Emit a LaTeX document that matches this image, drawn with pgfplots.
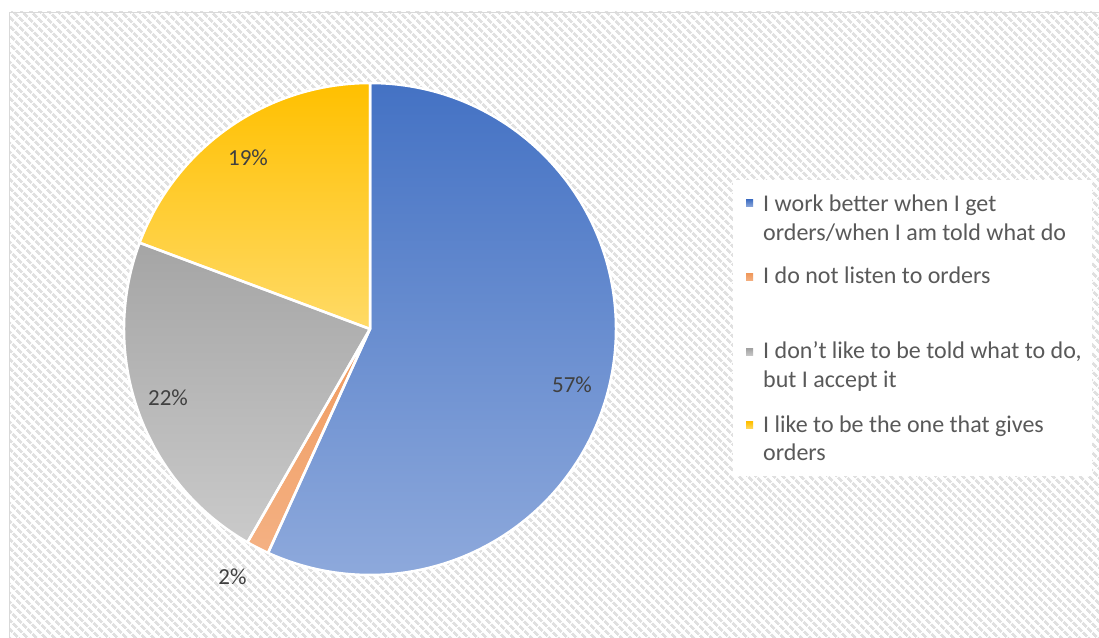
\documentclass[border=0pt]{standalone}
\usepackage{pgfplots}
\pgfplotsset{compat=1.18}
\usepackage{pgfplotstable}
\usepackage{fontspec}
\setmainfont{Carlito}
\usetikzlibrary{patterns.meta}
\definecolor{bluetop}{HTML}{4472C4}
\definecolor{bluebot}{HTML}{8FAADC}
\definecolor{orgtop}{HTML}{F09A5E}
\definecolor{orgbot}{HTML}{F4B183}
\definecolor{graytop}{HTML}{A5A5A5}
\definecolor{graybot}{HTML}{CACACA}
\definecolor{yeltop}{HTML}{FFC000}
\definecolor{yelbot}{HTML}{FFDA66}
\definecolor{legtext}{HTML}{595959}
\definecolor{labtext}{HTML}{404040}
\definecolor{hatch}{HTML}{E0E0E0}
\definecolor{frame}{HTML}{D9D9D9}

\pgfplotstableread{
label value
work 56.8
listen 1.5
accept 22.4
give 19.3
}\piedata

\pgfplotstablegetelem{0}{value}\of\piedata \pgfmathsetmacro\vA{\pgfplotsretval}
\pgfplotstablegetelem{1}{value}\of\piedata \pgfmathsetmacro\vB{\pgfplotsretval}
\pgfplotstablegetelem{2}{value}\of\piedata \pgfmathsetmacro\vC{\pgfplotsretval}
\pgfplotstablegetelem{3}{value}\of\piedata \pgfmathsetmacro\vD{\pgfplotsretval}
\pgfmathsetmacro\aA{90}
\pgfmathsetmacro\aB{\aA-3.6*\vA}
\pgfmathsetmacro\aC{\aB-3.6*\vB}
\pgfmathsetmacro\aD{\aC-3.6*\vC}
\pgfmathsetmacro\aE{\aD-3.6*\vD}

\newcommand\pieslice[2]{(0,0) -- ++(#1:246pt) arc[start angle=#1, end angle=#2, radius=246pt] -- cycle}

\begin{document}
\begin{tikzpicture}[x=1pt,y=1pt]
\useasboundingbox (0,0) rectangle (1099,637);
\fill[white] (0,0) rectangle (1099,637);
\fill[pattern={Lines[angle=-45,distance=6.4pt,line width=3pt]}, pattern color=hatch] (9,0) rectangle (1099,625);
\draw[frame, line width=1.5pt] (9.5,-5) -- (9.5,624.5) -- (1105,624.5);
% legend box
\fill[white] (733,161) rectangle (1092,457);

\begin{axis}[at={(370pt,308pt)}, anchor=center, width=492pt, height=492pt,
  scale only axis, xmin=-1, xmax=1, ymin=-1, ymax=1, hide axis, clip=false]
\addplot[draw=none] coordinates {(-1,-1) (1,1)};
\shade[top color=bluetop, bottom color=bluebot] \pieslice{\aA}{\aB};
\shade[top color=orgtop, bottom color=orgbot] \pieslice{\aB}{\aC};
\shade[top color=graytop, bottom color=graybot] \pieslice{\aC}{\aD};
\shade[top color=yeltop, bottom color=yelbot] \pieslice{\aD}{\aE};
\draw[white, line width=2.5pt, line join=round] \pieslice{\aA}{\aB};
\draw[white, line width=2.5pt, line join=round] \pieslice{\aB}{\aC};
\draw[white, line width=2.5pt, line join=round] \pieslice{\aC}{\aD};
\draw[white, line width=2.5pt, line join=round] \pieslice{\aD}{\aE};
\begin{scope}[every node/.style={anchor=base, text=labtext, font=\fontsize{23}{28}\selectfont}]
\node at (axis cs:0.821,-0.260) {57\%};
\node at (axis cs:-0.559,-1.037) {2\%};
\node at (axis cs:-0.821,-0.313) {22\%};
\node at (axis cs:-0.496,0.663) {19\%};
\end{scope}
\end{axis}

% legend
\begin{scope}[every node/.style={anchor=base west, inner sep=0pt, text=legtext, font=\fontsize{24}{28.5}\selectfont}]
\shade[top color=bluetop, bottom color=bluebot] (746,430) rectangle (753,437);
\node at (763,425) {I work better when I get};
\node at (763,396.5) {orders/when I am told what do};
\shade[top color=orgtop, bottom color=orgbot] (746,356) rectangle (753,363);
\node at (763,353.5) {I do not listen to orders};
\shade[top color=graytop, bottom color=graybot] (746,281) rectangle (753,288);
\node at (763,278) {I don’t like to be told what to do,};
\node at (763,249.5) {but I accept it};
\shade[top color=yeltop, bottom color=yelbot] (746,208) rectangle (753,215);
\node at (763,204.5) {I like to be the one that gives};
\node at (763,176) {orders};
\end{scope}
\end{tikzpicture}
\end{document}
